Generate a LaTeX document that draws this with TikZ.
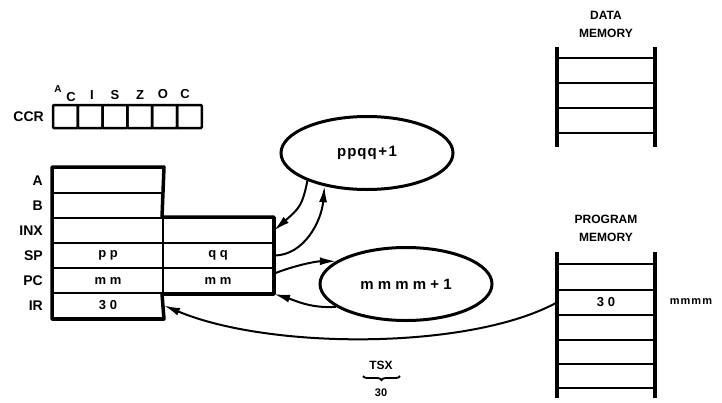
\documentclass[tikz,border=0pt]{standalone}
\usepackage{fontspec}
\setmainfont{Liberation Sans}
\usetikzlibrary{shapes.geometric,arrows.meta,decorations.pathreplacing}
\begin{document}
\begin{tikzpicture}[x=1pt,y=-1pt,
  cell/.style={draw, line width=2pt, minimum width=110pt, minimum height=25pt, inner sep=0pt, font=\bfseries\fontsize{13}{13}\selectfont},
  reglabel/.style={anchor=east, inner sep=0pt, font=\bfseries\fontsize{14}{14}\selectfont},
  ccrbox/.style={draw, line width=2.5pt, minimum width=24.8pt, minimum height=23pt, inner sep=0pt, rounded corners=1pt},
  flag/.style={inner sep=0pt, font=\bfseries\fontsize{13}{13}\selectfont},
  oval/.style={ellipse, draw, line width=3pt, minimum width=172pt, minimum height=73pt, inner sep=0pt, font=\bfseries\fontsize{15}{15}\selectfont},
  arr/.style={line width=2pt, -{Latex[length=16pt,width=8pt]}},
  rail/.style={line width=4pt},
  rung/.style={line width=2.5pt},
  memtitle/.style={align=center, inner sep=0pt, font=\bfseries\fontsize{12}{18}\selectfont},
  memcell/.style={minimum width=98pt, minimum height=25pt, inner sep=0pt, font=\bfseries\fontsize{13}{13}\selectfont}
]
\useasboundingbox (0,0) rectangle (722,402);

% CCR
\node[reglabel] (ccrl) at (44,117) {CCR};
\foreach \i in {0,...,5} {
  \node[ccrbox] (ccr\i) at (65.4+24.8*\i,116.5) {};
}
\node[flag, font=\bfseries\fontsize{10}{10}\selectfont] (fa) at (58,89) {A};
\node[flag] (fc1) at (71,97) {C};
\node[flag] (fi) at (92,95) {I};
\node[flag] (fs) at (115,95) {S};
\node[flag] (fz) at (140,95) {Z};
\node[flag] (fo) at (163,94) {O};
\node[flag] (fc2) at (185,94) {C};

% registers
\node[cell] (a) at (108,180.5) {};
\node[cell] (b) at (108,205.5) {};
\node[cell] (inx1) at (108,230.5) {};
\node[cell] (sp1) at (108,255.5) {p p};
\node[cell] (pc1) at (108,280.5) {m m};
\node[cell] (ir) at (108,305.5) {3 0};
\node[cell] (inx2) at (218,230.5) {};
\node[cell] (sp2) at (218,255.5) {q q};
\node[cell] (pc2) at (218,280.5) {m m};
\draw[line width=3.5pt, line join=round] (a.north west) -- (a.north east) -- (inx2.north west) -- (inx2.north east)
  -- (pc2.south east) -- (pc2.south west) -- (ir.south east) -- (ir.south west) -- cycle;

\node[reglabel] (la) at (43,180.5) {A};
\node[reglabel] (lb) at (43,205.5) {B};
\node[reglabel] (linx) at (43,230.5) {INX};
\node[reglabel] (lsp) at (43,255.5) {SP};
\node[reglabel] (lpc) at (43,280.5) {PC};
\node[reglabel] (lir) at (43,305.5) {IR};

% ellipses
\node[oval] (ppqq) at (367,153) {p\kern1pt p\kern1pt q\kern1pt q\kern1.5pt+\kern1.5pt1};
\node[oval] (mmmm) at (406,284) {m m m m + 1};

% data memory
\node[memtitle] (dmt) at (606,24) {DATA\\MEMORY};
\draw[rail] (557,47) -- (557,147);
\draw[rail] (655,47) -- (655,147);
\foreach \yy in {58,83,108,133} { \draw[rung] (557,\yy) -- (655,\yy); }

% program memory
\node[memtitle] (pmt) at (606,228) {PROGRAM\\MEMORY};
\draw[rail] (557,252) -- (557,398);
\draw[rail] (655,252) -- (655,398);
\foreach \yy in {264,290,315,340,364,388} { \draw[rung] (557,\yy) -- (655,\yy); }
\node[memcell] (pm30) at (606,302.5) {3 0};
\node[inner sep=0pt, font=\bfseries\fontsize{11}{11}\selectfont] (maddr) at (691,302) {m\kern1pt m\kern1pt m\kern1pt m};

% connectors
\draw[arr] (ppqq.205) .. controls +(-5,25) and +(25,-22) .. (inx2.east);
\draw[arr] (sp2.east) .. controls +(30,0) and +(-3,35) .. (ppqq.218);
\draw[arr] (pc2.7) .. controls +(20,-8) and +(-20,0) .. (mmmm.162);
\draw[arr] (mmmm.198) .. controls +(-25,2) and +(20,6) .. (pc2.south east);
\draw[arr] (pm30.west) .. controls (470,350) and (270,350) .. (ir.east);

% TSX
\node[inner sep=0pt, font=\bfseries\fontsize{12}{12}\selectfont] (tsx) at (381,365) {TSX};
\draw[line width=1.8pt, decorate, decoration={brace, mirror, amplitude=4pt}] (363,376) -- (400,376);
\node[inner sep=0pt, font=\bfseries\fontsize{11}{11}\selectfont] (op) at (381,393) {30};
\end{tikzpicture}
\end{document}
